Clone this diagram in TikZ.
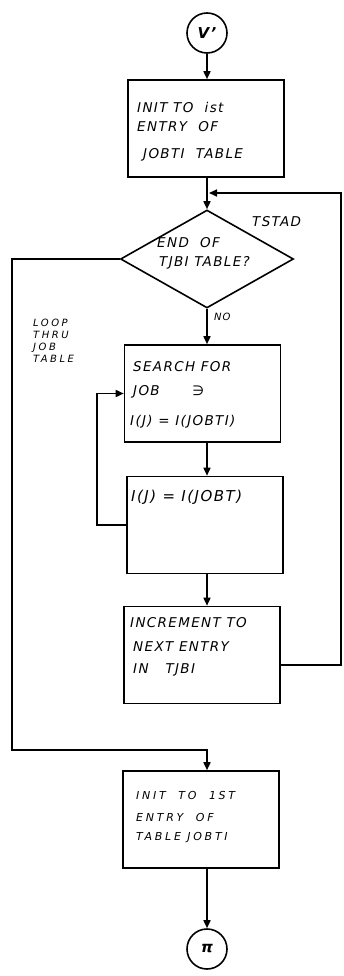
\documentclass[tikz,border=0pt]{standalone}
\usepackage{fontspec}
\setmainfont{DejaVu Sans}[LetterSpace=10]
\newfontfamily\widefont{DejaVu Sans}[LetterSpace=25]
\usetikzlibrary{arrows.meta,shapes.geometric}
\begin{document}
\begin{tikzpicture}[x=1pt,y=-1pt,
  every node/.style={font=\itshape\fontsize{13.5}{15}\selectfont},
  box/.style={draw,line width=1.6pt,minimum width=156pt,minimum height=97pt,inner sep=0pt},
  conn/.style={draw,line width=1.6pt,circle,minimum size=40pt,inner sep=0pt,font=\itshape\bfseries\fontsize{15}{17}\selectfont},
  txt/.style={anchor=west,inner sep=0pt},
  small/.style={font=\widefont\itshape\fontsize{11}{12}\selectfont},
  arr/.style={line width=1.6pt,-{Triangle[length=8pt,width=7pt]}}]
\useasboundingbox (0,0) rectangle (343,976);
\node[conn] (c1) at (207,33) {V'};
\node[box] (b1) at (206,128.5) {};
\node[draw,line width=1.6pt,diamond,minimum width=173pt,minimum height=98pt,inner sep=0pt,shape aspect=1.77] (d) at (207,259) {};
\node[box] (b2) at (202.5,393.5) {};
\node[box] (b3) at (205,525) {};
\node[box] (b4) at (202,655) {};
\node[box] (b5) at (201,819.5) {};
\node[conn] (c2) at (207,949) {π};
% texts
\node[txt] (t1a) at (137,107) {INIT TO \ ist};
\node[txt] (t1b) at (137,127) {ENTRY \ OF};
\node[txt] (t1c) at (143,155) {JOBTI \ TABLE};
\node[txt] (tda) at (157,243) {END \ OF};
\node[txt] (tdb) at (159,263) {TJBI TABLE?};
\node[txt] (t2a) at (133,367) {SEARCH FOR};
\node[txt] (t2b) at (133,392) {JOB \qquad ∋};
\node[txt] (t2c) at (130,422) {I(J) = I(JOBTI)};
\node[txt,font=\itshape\fontsize{15}{17}\selectfont] (t3a) at (131,497) {I(J) = I(JOBT)};
\node[txt] (t4a) at (130,623) {INCREMENT TO};
\node[txt] (t4b) at (133,647) {NEXT ENTRY};
\node[txt] (t4c) at (133,670) {IN \ \ TJBI};
\node[txt,small] (t5a) at (136,795) {INIT \ TO \ 1ST};
\node[txt,small] (t5b) at (136,817) {ENTRY \ OF};
\node[txt,small] (t5c) at (136,838) {TABLE JOBTI};
\node[txt] (ltst) at (252,222) {TSTAD};
\node[txt,font=\itshape\fontsize{10}{11}\selectfont] (lno) at (214,317) {NO};
\node[anchor=north west,inner sep=0pt,align=left,font=\widefont\itshape\fontsize{10}{12}\selectfont] (lloop) at (33,319) {LOOP\\THRU\\JOB\\TABLE};
% connectors
\draw[arr] (c1.south) -- (c1.south |- b1.north);
\draw[arr] (c1.south |- b1.south) -- (d.north);
\coordinate (j) at (209,193);
\coordinate (rt) at (341,665);
\draw[arr] (b4.east |- rt) -- (rt) |- (j);
\draw[arr] (d.south) -- (d.south |- b2.north);
\draw[arr] (d.south |- b2.south) -- (d.south |- b3.north);
\coordinate (lp) at (97,525);
\draw[arr] (b3.west |- lp) -- (lp) |- (b2.west);
\draw[arr] (d.south |- b3.south) -- (d.south |- b4.north);
\coordinate (lb) at (12,750);
\draw[arr] (d.west) -| (lb) -| (c2.north |- b5.north);
\draw[arr] (c2.north |- b5.south) -- (c2.north);
\end{tikzpicture}
\end{document}
